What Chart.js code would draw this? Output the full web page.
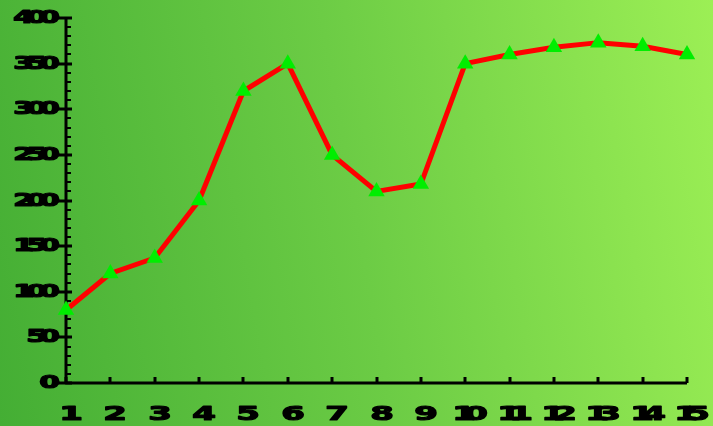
<!DOCTYPE html>
<html>
<head>
<meta charset="utf-8">
<script src="https://cdn.jsdelivr.net/npm/chart.js@4/dist/chart.umd.min.js"></script>
<style>
  body { margin: 0; }
  #chart { display: block; background: linear-gradient(80deg, #44ae34 0%, #6ccc45 50%, #9cef55 100%); }
</style>
</head>
<body>
<canvas id="chart" width="713" height="426"></canvas>
<script>
var categories = ["1", "2", "3", "4", "5", "6", "7", "8", "9", "10", "11", "12", "13", "14", "15"];
var values = [80, 120, 137, 200, 320, 350, 250, 210, 218, 350, 360, 368, 373, 369, 360];
var yTicks = [0, 50, 100, 150, 200, 250, 300, 350, 400];

// stretched, overlapping digits like the original
function wideText(ctx, text, x, y, size, stretch, advance, align) {
  ctx.font = "bold " + size + "px 'DejaVu Sans'";
  ctx.textBaseline = "middle";
  ctx.textAlign = "left";
  ctx.lineWidth = 1.2;
  ctx.lineJoin = "round";
  var chars = text.split("");
  var lastW = ctx.measureText(chars[chars.length - 1]).width * stretch;
  var total = advance * (chars.length - 1) + lastW;
  var start = align === "right" ? x - total : x - total / 2;
  chars.forEach(function (ch, i) {
    ctx.save();
    ctx.translate(start + i * advance, y);
    ctx.scale(stretch, 1);
    ctx.fillText(ch, 0, 0);
    ctx.strokeText(ch, 0, 0);
    ctx.restore();
  });
}

var axesPlugin = {
  id: "axes",
  beforeDatasetsDraw: function (chart) {
    var ctx = chart.ctx;
    var xs = chart.scales.x, ys = chart.scales.y;
    var left = xs.left, right = xs.right, top = ys.top, bottom = ys.bottom;
    ctx.save();
    ctx.strokeStyle = "#000";
    ctx.fillStyle = "#000";

    // minor y ticks every 10
    ctx.lineWidth = 2;
    for (var v = 0; v <= 400; v += 10) {
      if (v % 50 === 0) continue;
      var py = Math.round(ys.getPixelForValue(v));
      ctx.beginPath();
      ctx.moveTo(left, py);
      ctx.lineTo(left + 5, py);
      ctx.stroke();
    }
    // major y ticks + labels
    yTicks.forEach(function (t) {
      var py = Math.round(ys.getPixelForValue(t));
      ctx.lineWidth = 3;
      ctx.beginPath();
      ctx.moveTo(left - 8, py);
      ctx.lineTo(left + 6, py);
      ctx.stroke();
      wideText(ctx, String(t), left - 6, py + 1, 17, 1.75, 13, "right");
    });
    // x ticks + labels
    categories.forEach(function (c, i) {
      var px = Math.round(xs.getPixelForValue(i));
      ctx.lineWidth = 3;
      ctx.beginPath();
      ctx.moveTo(px, bottom);
      ctx.lineTo(px, bottom - 6);
      ctx.stroke();
      wideText(ctx, c, px + 5, bottom + 32, 20, 1.7, 12, "center");
    });
    // axis lines
    ctx.lineWidth = 3;
    ctx.beginPath();
    ctx.moveTo(left, top);
    ctx.lineTo(left, bottom);
    ctx.lineTo(right, bottom);
    ctx.stroke();
    ctx.restore();
  }
};

new Chart(document.getElementById("chart"), {
  type: "line",
  data: {
    labels: categories,
    datasets: [{
      data: values,
      borderColor: "#ff0000",
      borderWidth: 5,
      pointStyle: "triangle",
      pointRadius: 9.5,
      pointBackgroundColor: "#00ee00",
      pointBorderColor: "#00ee00",
      pointBorderWidth: 0,
      tension: 0,
      clip: false
    }]
  },
  options: {
    responsive: false,
    animation: false,
    layout: { padding: { left: 66, top: 18, right: 26, bottom: 43 } },
    plugins: { legend: { display: false }, tooltip: { enabled: false } },
    scales: {
      x: { display: false, offset: false },
      y: { display: false, min: 0, max: 400 }
    }
  },
  plugins: [axesPlugin]
});
</script>
</body>
</html>
